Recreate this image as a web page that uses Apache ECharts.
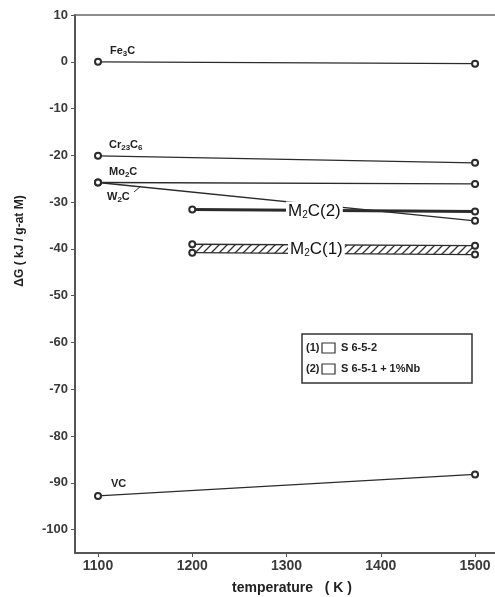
<!DOCTYPE html>
<html><head><meta charset="utf-8">
<script src="https://cdn.jsdelivr.net/npm/echarts@6/dist/echarts.min.js"></script>
<style>html,body{margin:0;padding:0;background:#fff;overflow:hidden}#c{width:495px;height:597px}</style>
</head><body><div id="c"></div>
<script>
// ---- data ----
const temps = [1100, 1500];
const fe3c = [0, -0.4];
const cr23c6 = [-20.1, -21.6];
const mo2c = [-25.8, -26.1];
const w2c = [-25.8, -34.0];
const vc = [-92.8, -88.2];
const m2cTemps = [1200, 1500];
const m2c2 = [-31.6, -32.0];
const m2c1Top = [-39.0, -39.3];
const m2c1Bottom = [-40.8, -41.2];
const xTicks = [1100, 1200, 1300, 1400, 1500];
const yTicks = [10, 0, -10, -20, -30, -40, -50, -60, -70, -80, -90, -100];

const chart = echarts.init(document.getElementById('c'));
const LC = '#2b2b2b';
const FONT = '"Liberation Sans", Arial, sans-serif';

function pairs(xs, ys){ return xs.map((x,i)=>[x, ys[i]]); }
function lineSeries(name, xs, ys, w){
  return {
    name, type:'line', data:pairs(xs, ys), symbol:'emptyCircle', symbolSize:6, clip:false,
    lineStyle:{color:LC, width:w||1.3}, itemStyle:{color:LC, borderWidth:1.2},
    animation:false, z:3
  };
}

// hatch pattern
const pc = document.createElement('canvas');
pc.width = 8; pc.height = 8;
const g = pc.getContext('2d');
g.fillStyle = '#fff'; g.fillRect(0,0,8,8);
g.strokeStyle = '#333'; g.lineWidth = 1.3;
g.beginPath(); g.moveTo(0,8); g.lineTo(8,0); g.moveTo(-2,2); g.lineTo(2,-2); g.moveTo(6,10); g.lineTo(10,6); g.stroke();

const option = {
  animation:false,
  grid:{left:75, top:15, width:445, bottom:44, show:false, outerBoundsMode:'none', containLabel:false},
  xAxis:[{
    type:'value', min:1075.6, max:1547.7,
    splitLine:{show:false},
    axisLine:{show:true, onZero:false, lineStyle:{color:'#555', width:2}},
    axisTick:{show:true, length:4, customValues:xTicks, lineStyle:{color:'#555'}},
    axisLabel:{customValues:xTicks, margin:6, color:'#3a3a3a', fontSize:14, fontWeight:'bold', fontFamily:FONT,
               formatter:v=>String(v)}
  },{
    type:'value', position:'top', min:1075.6, max:1547.7,
    splitLine:{show:false},
    axisLine:{show:true, onZero:false, lineStyle:{color:'#666', width:1.6}},
    axisTick:{show:false}, axisLabel:{show:false}
  }],
  yAxis:{
    type:'value', min:-105, max:10,
    splitLine:{show:false},
    axisLine:{show:true, onZero:false, lineStyle:{color:'#555', width:2}},
    axisTick:{show:true, length:4, customValues:yTicks, lineStyle:{color:'#555'}},
    axisLabel:{customValues:yTicks, margin:7, color:'#3a3a3a', fontSize:13, fontWeight:'bold', fontFamily:FONT,
               formatter:v=>String(v)}
  },
  series:[
    lineSeries('Fe3C', temps, fe3c),
    lineSeries('Cr23C6', temps, cr23c6),
    lineSeries('Mo2C', temps, mo2c),
    lineSeries('W2C', temps, w2c),
    lineSeries('VC', temps, vc),
    {
      type:'custom', name:'M2C(1) band', data:[[m2cTemps[0], m2c1Top[0]]], z:2, animation:false, clip:false,
      renderItem:function(params, api){
        const p1 = api.coord([m2cTemps[0], m2c1Top[0]]);
        const p2 = api.coord([m2cTemps[1], m2c1Top[1]]);
        const p3 = api.coord([m2cTemps[1], m2c1Bottom[1]]);
        const p4 = api.coord([m2cTemps[0], m2c1Bottom[0]]);
        return {type:'polygon', shape:{points:[p1,p2,p3,p4]},
          style:{fill:{image:pc, repeat:'repeat'}, stroke:null}};
      }
    },
    lineSeries('M2C(1) top', m2cTemps, m2c1Top),
    lineSeries('M2C(1) bottom', m2cTemps, m2c1Bottom),
    lineSeries('M2C(2)', m2cTemps, m2c2, 3)
  ]
};
chart.setOption(option);

// labels
const rich = {s:{fontSize:8, fontWeight:'bold', fontFamily:FONT, fill:'#222', verticalAlign:'bottom', padding:[6,0,0,0]},
              b:{fontSize:11, fontWeight:'bold', fontFamily:FONT, fill:'#222'}};
const richBig = {s:{fontSize:10, fontFamily:FONT, fill:'#111', padding:[8,0,0,0]},
                 b:{fontSize:17, fontFamily:FONT, fill:'#111'}};
function lbl(text, x, y, r, extra){
  return Object.assign({type:'text', x, y, z:100,
    style:Object.assign({text, rich:r||rich, textVerticalAlign:'middle', verticalAlign:'middle'}, extra||{})});
}
const G = [
  lbl('{b|Fe}{s|3}{b|C}', 110, 51),
  lbl('{b|Cr}{s|23}{b|C}{s|6}', 109, 145),
  lbl('{b|Mo}{s|2}{b|C}', 109, 172),
  lbl('{b|W}{s|2}{b|C}', 107, 197),
  lbl('{b|VC}', 111, 484),
  lbl('{b|M}{s|2}{b|C(2)}', 286, 211, richBig, {backgroundColor:'#fff', padding:[1,2,0,2]}),
  lbl('{b|M}{s|2}{b|C(1)}', 288, 249, richBig, {backgroundColor:'#fff', padding:[1,2,0,2]}),
  {type:'line', z:100, shape:{x1:134, y1:192, x2:141, y2:186}, style:{stroke:'#333', lineWidth:1}},
  // mask at right canvas edge
  {type:'rect', z:200, shape:{x:486, y:17, width:12, height:534}, style:{fill:'#fff'}},
  // y axis title
  {type:'text', x:20, y:241, rotation:Math.PI/2, z:100,
    style:{text:'ΔG ( kJ / g-at M)', fontSize:12, fontWeight:'bold', fontFamily:FONT, fill:'#222', align:'center', verticalAlign:'middle'}},
  // x axis title
  {type:'text', x:292, y:588, z:100,
    style:{text:'temperature   ( K )', fontSize:14, fontWeight:'bold', fontFamily:FONT, fill:'#222', align:'center', verticalAlign:'middle'}},
  // legend box
  {type:'rect', z:100, shape:{x:302, y:334, width:170, height:49}, style:{fill:'#fff', stroke:'#333', lineWidth:1.5}},
  {type:'text', x:306, y:348, z:101, style:{text:'(1)', fontSize:11, fontWeight:'bold', fontFamily:FONT, fill:'#222', verticalAlign:'middle'}},
  {type:'rect', z:101, shape:{x:322, y:343, width:13, height:10}, style:{fill:'#fff', stroke:'#333', lineWidth:1.2}},
  {type:'text', x:341, y:348, z:101, style:{text:'S 6-5-2', fontSize:11, fontWeight:'bold', fontFamily:FONT, fill:'#222', verticalAlign:'middle'}},
  {type:'text', x:306, y:369, z:101, style:{text:'(2)', fontSize:11, fontWeight:'bold', fontFamily:FONT, fill:'#222', verticalAlign:'middle'}},
  {type:'rect', z:101, shape:{x:322, y:364, width:13, height:10}, style:{fill:'#fff', stroke:'#333', lineWidth:1.2}},
  {type:'text', x:341, y:369, z:101, style:{text:'S 6-5-1 + 1%Nb', fontSize:11, fontWeight:'bold', fontFamily:FONT, fill:'#222', verticalAlign:'middle'}}
];
chart.setOption({graphic:G});
</script>
</body></html>
